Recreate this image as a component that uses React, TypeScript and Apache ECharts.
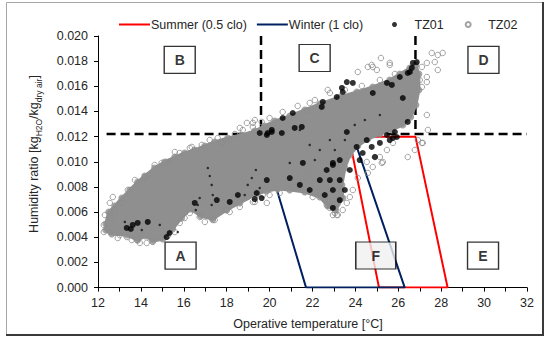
import React, { useEffect, useRef } from 'react';
import * as echarts from 'echarts';

// Comfort-zone outlines (operative temperature °C, humidity ratio)
const SUMMER_ZONE = [[25.1, 0], [23.7, 0.012], [26.8, 0.012], [28.3, 0], [25.1, 0]];
const WINTER_ZONE = [[21.7, 0], [19.6, 0.012], [23.9, 0.012], [26.3, 0], [21.7, 0]];

// Dashed dividing lines
const DASH_H = [[12.4, 0.0122], [32, 0.0122]];
const DASH_V1 = [[19.6, 0.02], [19.6, 0.0122]];
const DASH_V2 = [[26.8, 0.02], [26.8, 0.0122]];

// Envelope of the dense (solid grey) part of the measurement cloud
const CLOUD = [
  [12.36, 0.00506], [12.5, 0.00601], [12.78, 0.00649], [13.11, 0.00712], [13.48, 0.00776],
  [13.85, 0.0084], [14.18, 0.00887], [14.64, 0.00951], [15.11, 0.00999], [15.58, 0.01038],
  [16.04, 0.0107], [16.51, 0.01094], [16.98, 0.01126], [17.44, 0.01158], [18.05, 0.01189],
  [18.7, 0.01213], [19.31, 0.01245], [19.77, 0.01285], [20.24, 0.01324], [20.94, 0.01364],
  [21.64, 0.01412], [22.34, 0.0146], [23.27, 0.01515], [24.07, 0.01555], [24.81, 0.01595],
  [25.6, 0.0165], [26.07, 0.01698], [26.54, 0.01746], [26.82, 0.0177], [26.96, 0.01698],
  [26.96, 0.01571], [26.82, 0.01452], [26.58, 0.01356], [26.21, 0.01293], [25.7, 0.01253],
  [25.14, 0.01221], [24.58, 0.01181], [24.11, 0.01126], [23.74, 0.01054], [23.51, 0.00951],
  [23.37, 0.00816], [23.41, 0.00712], [23.08, 0.00617], [22.71, 0.00649], [22.34, 0.0072],
  [21.64, 0.0076], [20.94, 0.00776], [20.38, 0.00784], [19.87, 0.00768], [19.4, 0.00744],
  [18.61, 0.00673], [18.0, 0.00617], [17.35, 0.00545], [16.79, 0.00569], [16.32, 0.00625],
  [15.9, 0.00553], [15.48, 0.00466], [15.02, 0.00386], [14.55, 0.0037], [14.22, 0.0041],
  [13.85, 0.00378], [13.34, 0.00418], [12.64, 0.00426], [12.36, 0.00458],
];

// TZ02 – scattered open circles around the dense cloud
const TZ02 = [
  [25.19, 0.01825], [25.6, 0.01786], [24.81, 0.01754], [25.0, 0.0173], [27.56, 0.01865],
  [27.84, 0.01849], [28.07, 0.01865], [27.33, 0.01786], [27.7, 0.01793], [27.84, 0.0173],
  [27.0, 0.0165], [27.33, 0.01634], [26.63, 0.01491], [27.33, 0.01372], [27.1, 0.0115],
  [26.77, 0.01094], [26.44, 0.01038], [25.23, 0.00991], [24.91, 0.01038], [24.11, 0.01714],
  [24.58, 0.01754], [24.76, 0.0177], [25.6, 0.0177], [27.1, 0.01754], [27.33, 0.01674],
  [27.1, 0.01595], [27.38, 0.01253], [22.81, 0.01547], [22.71, 0.01571], [21.87, 0.01468],
  [21.73, 0.01412], [22.48, 0.01412], [19.31, 0.01332], [19.22, 0.01309], [18.75, 0.01253],
  [18.61, 0.01269], [18.94, 0.01309], [19.22, 0.01277], [17.58, 0.01189], [17.82, 0.01158],
  [18.14, 0.01173], [15.81, 0.0107], [15.34, 0.00991], [14.18, 0.00879], [14.97, 0.00991],
  [15.2, 0.00999], [16.37, 0.01118], [16.84, 0.01134], [17.77, 0.0115], [13.11, 0.00673],
  [12.78, 0.00617], [12.64, 0.00561], [16.04, 0.00553], [17.35, 0.00537], [18.0, 0.00617],
  [18.98, 0.0072], [19.31, 0.00681], [12.55, 0.00442], [13.01, 0.00418], [13.34, 0.00402],
  [13.81, 0.00378], [13.95, 0.00355], [14.27, 0.00355], [14.55, 0.00363], [12.55, 0.00673],
  [12.69, 0.0072], [15.81, 0.00514], [16.74, 0.00561], [17.44, 0.00537], [19.22, 0.00681],
  [19.87, 0.00673], [19.68, 0.00736], [21.73, 0.00911], [21.87, 0.00855], [22.01, 0.0072],
  [22.34, 0.00752], [22.57, 0.00696], [22.66, 0.00657], [22.81, 0.00633], [22.95, 0.00577],
  [23.13, 0.00577], [23.41, 0.00617], [23.6, 0.00673], [23.74, 0.0072], [23.88, 0.00776],
  [24.53, 0.00999], [24.81, 0.00959], [25.14, 0.01038], [25.28, 0.00999], [25.47, 0.01094],
  [25.75, 0.0115], [27.14, 0.0115], [26.91, 0.01173], [21.55, 0.00855], [21.17, 0.008],
  [20.85, 0.00792], [23.04, 0.00593], [23.18, 0.00577], [22.89, 0.00641], [24.11, 0.00871],
  [24.58, 0.00911],
  [13.72, 0.00855], [13.39, 0.00776], [14.64, 0.00975], [15.58, 0.01078], [16.28, 0.0111],
  [17.21, 0.01173], [18.38, 0.01221], [19.63, 0.01317], [20.0, 0.01348], [20.61, 0.01396],
  [21.31, 0.01444], [22.11, 0.01491], [23.51, 0.01571], [24.3, 0.01603], [25.14, 0.0165],
  [25.84, 0.01698], [12.32, 0.00577], [12.27, 0.00498], [12.27, 0.00442], [20.0, 0.00736],
  [20.47, 0.00752], [18.14, 0.00601], [18.61, 0.00641], [16.98, 0.00522], [16.28, 0.00593],
  [15.25, 0.0041], [15.58, 0.00442], [12.92, 0.00394], [13.57, 0.00378],
];

// TZ01 – black filled dots
const TZ01 = [
  [26.86, 0.01793], [26.63, 0.01746], [26.54, 0.01714], [26.07, 0.01674], [26.21, 0.01507],
  [26.44, 0.01317], [25.84, 0.01237], [25.6, 0.01173], [24.91, 0.01038], [25.93, 0.01197],
  [23.6, 0.01634], [23.37, 0.01587], [22.43, 0.01436], [21.5, 0.01277], [21.17, 0.01269],
  [20.57, 0.01229], [24.76, 0.01118], [26.68, 0.01786], [26.44, 0.01706], [25.7, 0.01611],
  [25.47, 0.01627], [24.81, 0.01547], [23.88, 0.01627], [23.41, 0.01555], [23.13, 0.01515],
  [22.48, 0.01476], [21.08, 0.01388], [20.61, 0.01348], [20.1, 0.01253], [19.91, 0.01229],
  [23.6, 0.01237], [24.06, 0.01118], [24.53, 0.01173], [25.75, 0.01189], [25.47, 0.01213],
  [23.27, 0.01014], [22.95, 0.00975], [22.66, 0.00935], [23.74, 0.00935], [22.95, 0.00991],
  [22.95, 0.00776], [22.95, 0.00633], [22.81, 0.00855], [23.27, 0.00855], [24.2, 0.01014],
  [24.34, 0.0107], [25.14, 0.0115], [21.55, 0.00991], [13.62, 0.00498], [13.85, 0.00514],
  [19.63, 0.00712], [19.31, 0.00704], [18.52, 0.00736], [16.51, 0.00673], [14.32, 0.00522],
  [13.34, 0.00474], [13.53, 0.00466], [15.2, 0.00402], [15.34, 0.00434], [17.54, 0.00696],
  [18.14, 0.00681], [19.87, 0.00855], [19.4, 0.00752], [19.54, 0.01229], [20.1, 0.01237],
  [19.87, 0.01213], [21.41, 0.00816], [21.87, 0.00776], [22.34, 0.00855], [22.57, 0.00736],
  [23.27, 0.00696], [23.51, 0.00776], [20.94, 0.00871],
];

// TZ01 – small dark specks inside the dense cloud
const TZ01_SPECKS = [
  [17.3, 0.00657], [17.35, 0.00736], [17.3, 0.00816], [17.21, 0.00887], [17.12, 0.00951],
  [16.65, 0.00657], [16.74, 0.00712], [16.56, 0.00617], [18.98, 0.00816], [19.17, 0.00871],
  [19.36, 0.00935], [18.84, 0.00736], [19.54, 0.00792], [13.25, 0.00522], [14.04, 0.00458],
  [14.88, 0.00498], [15.72, 0.00442], [21.41, 0.01253], [21.87, 0.01134], [22.34, 0.01094],
  [22.81, 0.01173], [20.94, 0.00991], [22.11, 0.01014], [23.04, 0.01094], [23.51, 0.01173],
  [23.97, 0.01293], [24.44, 0.01332], [25.14, 0.01372],
];

// Region labels
const ZONE_NAMES = ['A', 'B', 'C', 'D', 'E', 'F'];
const ZONE_X = [15.85, 15.81, 22.1, 29.97, 29.95, 24.95];
const ZONE_Y = [0.00255, 0.0181, 0.01825, 0.0181, 0.00255, 0.00255];

const FONT = 'Liberation Sans, Arial, sans-serif';
const TXT = '#262626';
const GREY = '#8f8f8f';

export default function App() {
  const ref = useRef<HTMLDivElement>(null);
  useEffect(() => {
    document.body.style.margin = '0';
    const chart = echarts.init(ref.current!, null, { renderer: 'svg' });
    const option: any = {
      animation: false,
      textStyle: { fontFamily: FONT },
      grid: { left: 98, top: 36, right: 23, bottom: 55.4 },
      legend: [
        {
          left: 114,
          top: 13,
          itemWidth: 31,
          itemHeight: 2,
          itemGap: 10,
          textStyle: { fontSize: 12.5, color: TXT, fontFamily: FONT, padding: [0, 0, 0, -4] },
          data: [
            { name: 'Summer (0.5 clo)', icon: 'rect', itemStyle: { color: '#ff0000' } },
            { name: 'Winter (1 clo)', icon: 'rect', itemStyle: { color: '#002060' } },
          ],
        },
        {
          left: 387,
          top: 13,
          itemWidth: 18,
          itemHeight: 5,
          itemGap: 21,
          textStyle: { fontSize: 12.5, color: TXT, fontFamily: FONT, padding: [0, 0, 0, 6] },
          data: ['TZ01', 'TZ02'],
        },
      ],
      xAxis: {
        type: 'value',
        min: 12,
        max: 32,
        interval: 2,
        name: 'Operative temperature [°C]',
        nameLocation: 'middle',
        nameGap: 30,
        nameTextStyle: { fontSize: 12.5, color: TXT, fontFamily: FONT, padding: [0, 9, 0, 0] },
        axisLine: { lineStyle: { color: '#000', width: 1 } },
        axisTick: { length: 4, lineStyle: { color: '#000' } },
        minorTick: { show: true, splitNumber: 2, length: 4, lineStyle: { color: '#000' } },
        axisLabel: { fontSize: 12.5, color: TXT, margin: 9, fontFamily: FONT },
        splitLine: { show: false },
      },
      yAxis: {
        type: 'value',
        min: 0,
        max: 0.02,
        interval: 0.002,
        axisLine: { show: true, lineStyle: { color: '#000', width: 1 } },
        axisTick: { show: true, length: 4, lineStyle: { color: '#000' } },
        axisLabel: {
          fontSize: 12.5,
          color: TXT,
          margin: 10,
          fontFamily: FONT,
          formatter: (v: number) => v.toFixed(3),
        },
        splitLine: { show: false },
      },
      series: [
        {
          name: 'dashH', type: 'line', data: DASH_H, symbol: 'none', silent: true, z: 1,
          lineStyle: { color: '#000', width: 2.5, type: [9, 5] },
        },
        {
          name: 'dashV1', type: 'line', data: DASH_V1, symbol: 'none', silent: true, z: 1,
          lineStyle: { color: '#000', width: 2.5, type: [9, 5] },
        },
        {
          name: 'dashV2', type: 'line', data: DASH_V2, symbol: 'none', silent: true, z: 1,
          lineStyle: { color: '#000', width: 2.5, type: [9, 5] },
        },
        {
          name: 'Summer (0.5 clo)', type: 'line', data: SUMMER_ZONE, symbol: 'none', z: 2,
          lineStyle: { color: '#ff0000', width: 2 }, itemStyle: { color: '#ff0000' },
        },
        {
          name: 'Winter (1 clo)', type: 'line', data: WINTER_ZONE, symbol: 'none', z: 2,
          lineStyle: { color: '#002060', width: 2 }, itemStyle: { color: '#002060' },
        },
        {
          name: 'cloud', type: 'custom', z: 3, silent: true,
          data: [0],
          renderItem: (_p: any, api: any) => ({
            type: 'polygon',
            shape: { points: CLOUD.map((d) => api.coord(d)) },
            style: { fill: GREY, stroke: GREY, lineWidth: 3 },
          }),
        },
        {
          name: 'cloudEdge', type: 'scatter', z: 3, silent: true, data: CLOUD,
          symbolSize: 7, itemStyle: { color: GREY },
        },
        {
          name: 'TZ02', type: 'scatter', z: 4, data: TZ02, symbolSize: 5.5,
          itemStyle: { color: 'rgba(255,255,255,0)', borderColor: '#8c8c8c', borderWidth: 1 },
        },
        {
          name: 'TZ01', type: 'scatter', z: 5, data: TZ01, symbolSize: 6,
          itemStyle: { color: '#000' },
        },
        {
          name: 'TZ01', type: 'scatter', z: 5, data: TZ01_SPECKS, symbolSize: 2.5,
          itemStyle: { color: '#111' },
        },
        {
          name: 'zones', type: 'scatter', z: 6, silent: true,
          data: ZONE_NAMES.map((n, i) => ({
            name: n,
            value: [ZONE_X[i], ZONE_Y[i]],
            symbolSize: n === 'F' ? [40, 27] : [31, 27],
            itemStyle: { color: n === 'F' ? '#f0f0f0' : '#fff' },
          })),
          symbol: 'rect',
          itemStyle: { borderColor: '#000', borderWidth: 1.3 },
          label: {
            show: true, position: 'inside', formatter: '{b}',
            fontSize: 14, fontWeight: 'bold', color: '#000', fontFamily: FONT,
          },
        },
      ],
      graphic: [
        {
          type: 'text', x: 35, y: 154, rotation: Math.PI / 2, silent: true,
          style: {
            text: '{n|Humidity ratio [kg}{s|H2O}{n|/kg}{s|dry air}{n|]}',
            align: 'center',
            verticalAlign: 'middle',
            rich: {
              n: { fontSize: 12.5, fill: TXT, fontFamily: FONT, lineHeight: 16, verticalAlign: 'top' },
              s: { fontSize: 8.5, fill: TXT, fontFamily: FONT, lineHeight: 16, verticalAlign: 'top', padding: [7, 0, 0, 0] },
            },
          },
        },
        { type: 'rect', shape: { x: 6.5, y: 2.5, width: 536, height: 332 }, style: { fill: 'none', stroke: '#a6a6a6', lineWidth: 1 }, silent: true },
        { type: 'line', shape: { x1: 543, y1: 2, x2: 543, y2: 336 }, style: { stroke: '#3a3a3a', lineWidth: 2 }, silent: true },
        { type: 'line', shape: { x1: 6, y1: 335, x2: 544, y2: 335 }, style: { stroke: '#3a3a3a', lineWidth: 2 }, silent: true },
      ],
    };
    chart.setOption(option);
    return () => chart.dispose();
  }, []);
  return <div ref={ref} style={{ width: 550, height: 343, position: 'absolute', left: 0, top: 0 }} />;
}
